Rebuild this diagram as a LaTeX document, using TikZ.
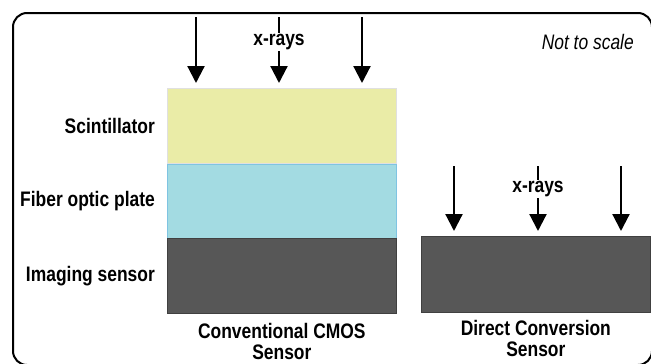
\documentclass[tikz,border=0pt]{standalone}
\usepackage{fontspec}
\setmainfont{Liberation Sans}[FakeStretch=0.83]
\usetikzlibrary{positioning,arrows.meta}

\definecolor{scintyellow}{HTML}{EAECA7}
\definecolor{fibercyan}{HTML}{A3DBE2}
\definecolor{fiberedge}{HTML}{7FC4E2}
\definecolor{sensorgray}{HTML}{575757}

\tikzset{
	layer/.style={draw, minimum width=229pt, minimum height=75pt, inner sep=0pt, line width=0.7pt},
	lbl/.style={font=\fontsize{21}{21}\selectfont\bfseries, inner sep=0pt},
	xray/.style={line width=2.2pt, -{Triangle[width=17pt,length=17pt]}, shorten >=5pt},
}

\begin{document}
\begin{tikzpicture}[x=1pt,y=-1pt]
		\useasboundingbox (0,0) rectangle (651,364);
		\draw[line width=2pt, rounded corners=14pt] (13,13) rectangle (652,365);
	
		% conventional stack
		\node[layer, fill=scintyellow, draw=black!12, anchor=north west] (scint) at (167,88) {};
		\node[layer, fill=fibercyan, draw=fiberedge, below=0pt of scint, minimum height=74pt] (fiber) {};
		\node[layer, fill=sensorgray, draw=black!75, below=0pt of fiber] (imgsensor) {};
	
		% direct conversion
		\node[layer, fill=sensorgray, draw=black!75, anchor=north west, minimum height=76pt] (direct) at (421,236) {};
	
		\node[lbl, left=12pt of scint] (scintlbl) {Scintillator};
		\node[lbl, left=12pt of fiber] (fiberlbl) {Fiber optic plate};
		\node[lbl, left=12pt of imgsensor] (imglbl) {Imaging sensor};
	
		\node[lbl, align=center, below=27pt of imgsensor, anchor=center] (cmoscap) {Conventional CMOS\\Sensor};
		\node[lbl, align=center, below=26pt of direct, anchor=center] (directcap) {Direct Conversion\\Sensor};
	
		\node[font=\fontsize{21}{21}\selectfont\itshape, inner sep=0pt, anchor=east] (note) at (634,42) {Not to scale};
	
		\coordinate (c1) at (196,17);
		\coordinate (c2) at (279,17);
		\coordinate (c3) at (362,17);
		\coordinate (d1) at (454,166);
		\coordinate (d2) at (538,166);
		\coordinate (d3) at (621,166);
	
		\draw[xray] (c1) -- (c1 |- scint.north);
		\draw[xray] (c2) -- (c2 |- scint.north) node[lbl, fill=white, pos=0.35, inner sep=1.5pt] (xlbl1) {x-rays};
		\draw[xray] (c3) -- (c3 |- scint.north);
	
		\draw[xray] (d1) -- (d1 |- direct.north);
		\draw[xray] (d2) -- (d2 |- direct.north) node[lbl, fill=white, pos=0.33, inner sep=1.5pt] (xlbl2) {x-rays};
		\draw[xray] (d3) -- (d3 |- direct.north);
	
	\end{tikzpicture}
\end{document}
